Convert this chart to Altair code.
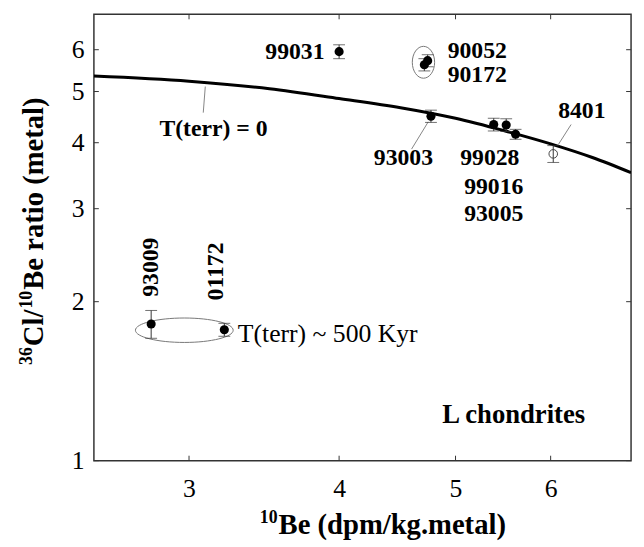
import altair as alt
import pandas as pd

# ---- data ----
ids = ["99031", "90052", "90172", "93003", "99028", "99016", "93005", "8401", "93009", "01172"]
be10 = [4.00, 4.74, 4.71, 4.77, 5.38, 5.51, 5.61, 6.03, 2.79, 3.21]
ratio = [5.95, 5.72, 5.62, 4.49, 4.33, 4.32, 4.15, 3.81, 1.815, 1.77]
err = [0.18, 0.15, 0.15, 0.12, 0.12, 0.12, 0.09, 0.14, 0.11, 0.05]
filled = [True, True, True, True, True, True, True, False, True, True]

curve_x = [2.5, 3.0, 3.5, 4.0, 4.5, 5.0, 5.5, 6.0, 6.5, 7.0]
curve_y = [5.35, 5.23, 5.06, 4.85, 4.66, 4.45, 4.21, 3.98, 3.75, 3.51]

x_ticks = [3, 4, 5, 6]
y_ticks = [1, 2, 3, 4, 5, 6]

# annotation labels (data coordinates)
lab_text = ["99031", "90052", "90172", "93003", "99028", "99016", "93005", "8401", "T(terr) = 0"]
lab_x = [3.89, 4.925, 4.925, 4.525, 5.34, 5.38, 5.38, 6.37, 3.144]
lab_y = [5.95, 5.97, 5.36, 3.74, 3.74, 3.295, 2.924, 4.59, 4.24]
lab_align = ["right", "left", "left", "center", "center", "center", "center", "center", "center"]

rot_text = ["93009", "01172"]
rot_x = [2.792, 3.162]
rot_y = [2.325, 2.282]

# leader lines
lead_x1 = [3.095, 4.745, 6.24]
lead_y1 = [5.11, 4.38, 4.33]
lead_x2 = [3.083, 4.596, 6.09]
lead_y2 = [4.56, 3.89, 3.97]

# ellipses grouping points
ell_x = [2.973, 4.702]
ell_y = [1.766, 5.68]

# axis titles, split into normal and superscript pieces
xt_parts = ["10", "Be (dpm/kg.metal)"]
yt_parts = ["36", "Cl/", "10", "Be ratio (metal)"]

W, H = 544, 452
FONT = "Liberation Serif"

xs = alt.Scale(type="log", domain=[2.5, 7], nice=False)
ys = alt.Scale(type="log", domain=[1, 7], nice=False)

xaxis = alt.Axis(values=x_ticks, format="d", ticks=False, domain=False, grid=False,
                 labelFont=FONT, labelFontSize=26, labelColor="black", labelPadding=15,
                 labelOverlap=False, labelFlush=False, title="")
yaxis = alt.Axis(values=y_ticks, format="d", ticks=False, domain=False, grid=False,
                 labelFont=FONT, labelFontSize=26, labelColor="black", labelPadding=10,
                 labelOverlap=False, labelFlush=False, title="")


def X(field):
    return alt.X(field, scale=xs, axis=xaxis)


def Y(field):
    return alt.Y(field, scale=ys, axis=yaxis)


pts = pd.DataFrame({"id": ids, "x": be10, "y": ratio, "err": err, "filled": filled})
pts["lo"] = pts["y"] - pts["err"]
pts["hi"] = pts["y"] + pts["err"]
curve = pd.DataFrame({"x": curve_x, "y": curve_y})
labs = pd.DataFrame({"t": lab_text, "x": lab_x, "y": lab_y, "a": lab_align})
rots = pd.DataFrame({"t": rot_text, "x": rot_x, "y": rot_y})
leads = pd.DataFrame({"x": lead_x1, "y": lead_y1, "x2": lead_x2, "y2": lead_y2})

line = alt.Chart(curve).mark_line(color="black", strokeWidth=3, interpolate="monotone", clip=True).encode(
    x=X("x:Q"), y=Y("y:Q"))

xt = pd.DataFrame({"x": x_ticks})
yt = pd.DataFrame({"y": y_ticks})
tick_style = dict(color="#333", strokeWidth=1)
tb = alt.Chart(xt).mark_rule(**tick_style).encode(x=X("x:Q"), y=alt.value(H), y2=alt.value(H - 5))
tt = alt.Chart(xt).mark_rule(**tick_style).encode(x=X("x:Q"), y=alt.value(0), y2=alt.value(5))
tl = alt.Chart(yt).mark_rule(**tick_style).encode(y=Y("y:Q"), x=alt.value(0), x2=alt.value(5))
tr = alt.Chart(yt).mark_rule(**tick_style).encode(y=Y("y:Q"), x=alt.value(W), x2=alt.value(W - 5))

ebar = alt.Chart(pts).mark_rule(color="#333", strokeWidth=1).encode(
    x=X("x:Q"), y=Y("lo:Q"), y2="hi:Q")
cap_lo = alt.Chart(pts).mark_tick(color="#333", thickness=1, size=12, orient="horizontal").encode(
    x=X("x:Q"), y=Y("lo:Q"))
cap_hi = alt.Chart(pts).mark_tick(color="#333", thickness=1, size=12, orient="horizontal").encode(
    x=X("x:Q"), y=Y("hi:Q"))

solid = alt.Chart(pts[pts["filled"]]).mark_point(filled=True, color="black", size=85, opacity=1).encode(
    x=X("x:Q"), y=Y("y:Q"))
hollow = alt.Chart(pts[~pts["filled"]]).mark_point(filled=False, color="#444", size=75, strokeWidth=1, opacity=1).encode(
    x=X("x:Q"), y=Y("y:Q"))

ell1 = alt.Chart(pd.DataFrame({"x": [ell_x[0]], "y": [ell_y[0]]})).mark_point(
    shape="M-1,0A1,0.25,0,1,0,1,0A1,0.25,0,1,0,-1,0", size=9801, filled=False,
    color="#777", strokeWidth=1, opacity=1).encode(x=X("x:Q"), y=Y("y:Q"))
ell2 = alt.Chart(pd.DataFrame({"x": [ell_x[1]], "y": [ell_y[1]]})).mark_point(
    shape="M0,-1A0.7,1,0,1,0,0,1A0.7,1,0,1,0,0,-1", size=1043, filled=False,
    color="#777", strokeWidth=1, opacity=1).encode(x=X("x:Q"), y=Y("y:Q"))

leaders = alt.Chart(leads).mark_rule(color="#666", strokeWidth=0.8).encode(
    x=X("x:Q"), y=Y("y:Q"), x2="x2:Q", y2="y2:Q")


def lab_layer(align):
    d = labs[labs["a"] == align]
    return alt.Chart(d).mark_text(font=FONT, fontSize=24, fontWeight="bold", color="black",
                                  align=align, baseline="middle").encode(
        x=X("x:Q"), y=Y("y:Q"), text="t:N")


rot_labels = alt.Chart(rots).mark_text(font=FONT, fontSize=24, fontWeight="bold", color="black",
                                       angle=270, align="center", baseline="middle").encode(
    x=X("x:Q"), y=Y("y:Q"), text="t:N")

note = alt.Chart(pd.DataFrame({"t": ["T(terr) ~ 500 Kyr"], "x": [3.294], "y": [1.733]})).mark_text(
    font=FONT, fontSize=26, color="black", align="left", baseline="middle").encode(
    x=X("x:Q"), y=Y("y:Q"), text="t:N")

group = alt.Chart(pd.DataFrame({"t": ["L  chondrites"], "x": [5.59], "y": [1.22]})).mark_text(
    font=FONT, fontSize=27, fontWeight="bold", color="black", align="center", baseline="middle").encode(
    x=X("x:Q"), y=Y("y:Q"), text="t:N")

# ---- axis titles with superscripts (title placement in pixels) ----
TS, SS = 29, 18
tdf = pd.DataFrame({"t": ["x"]})


def title_piece(text, size, px, py, angle=0):
    return alt.Chart(tdf).mark_text(
        text=text, font=FONT, fontSize=size, fontWeight="bold", color="black",
        align="left", baseline="alphabetic", angle=angle).encode(
        x=alt.value(px), y=alt.value(py))


# x title: "10" superscript + "Be (dpm/kg.metal)"
x_start = 168
xtitle = [
    title_piece(xt_parts[0], SS, x_start, H + 63),
    title_piece(xt_parts[1], TS, x_start + 19, H + 74),
]
# y title (rotated, reading bottom to top)
yb = -52
y_start = 355
w_cl = 1.278 * TS
ytitle = [
    title_piece(yt_parts[0], SS, yb - 11, y_start, 270),
    title_piece(yt_parts[1], TS, yb, y_start - 19, 270),
    title_piece(yt_parts[2], SS, yb - 11, y_start - 19 - w_cl - 1, 270),
    title_piece(yt_parts[3], TS, yb, y_start - 19 - w_cl - 20, 270),
]

chart = alt.layer(
    line, tb, tt, tl, tr, ell1, ell2, leaders, ebar, cap_lo, cap_hi, solid, hollow,
    lab_layer("left"), lab_layer("right"), lab_layer("center"), rot_labels, note, group,
    *xtitle, *ytitle
).properties(
    width=W, height=H,
    autosize=alt.AutoSizeParams(type="none"),
    padding={"left": 87, "top": 3, "right": 5, "bottom": 84},
    background="white",
).configure_view(stroke="#333", strokeWidth=1.5)

chart.save("out.html", embed_options={"renderer": "svg", "actions": False})
